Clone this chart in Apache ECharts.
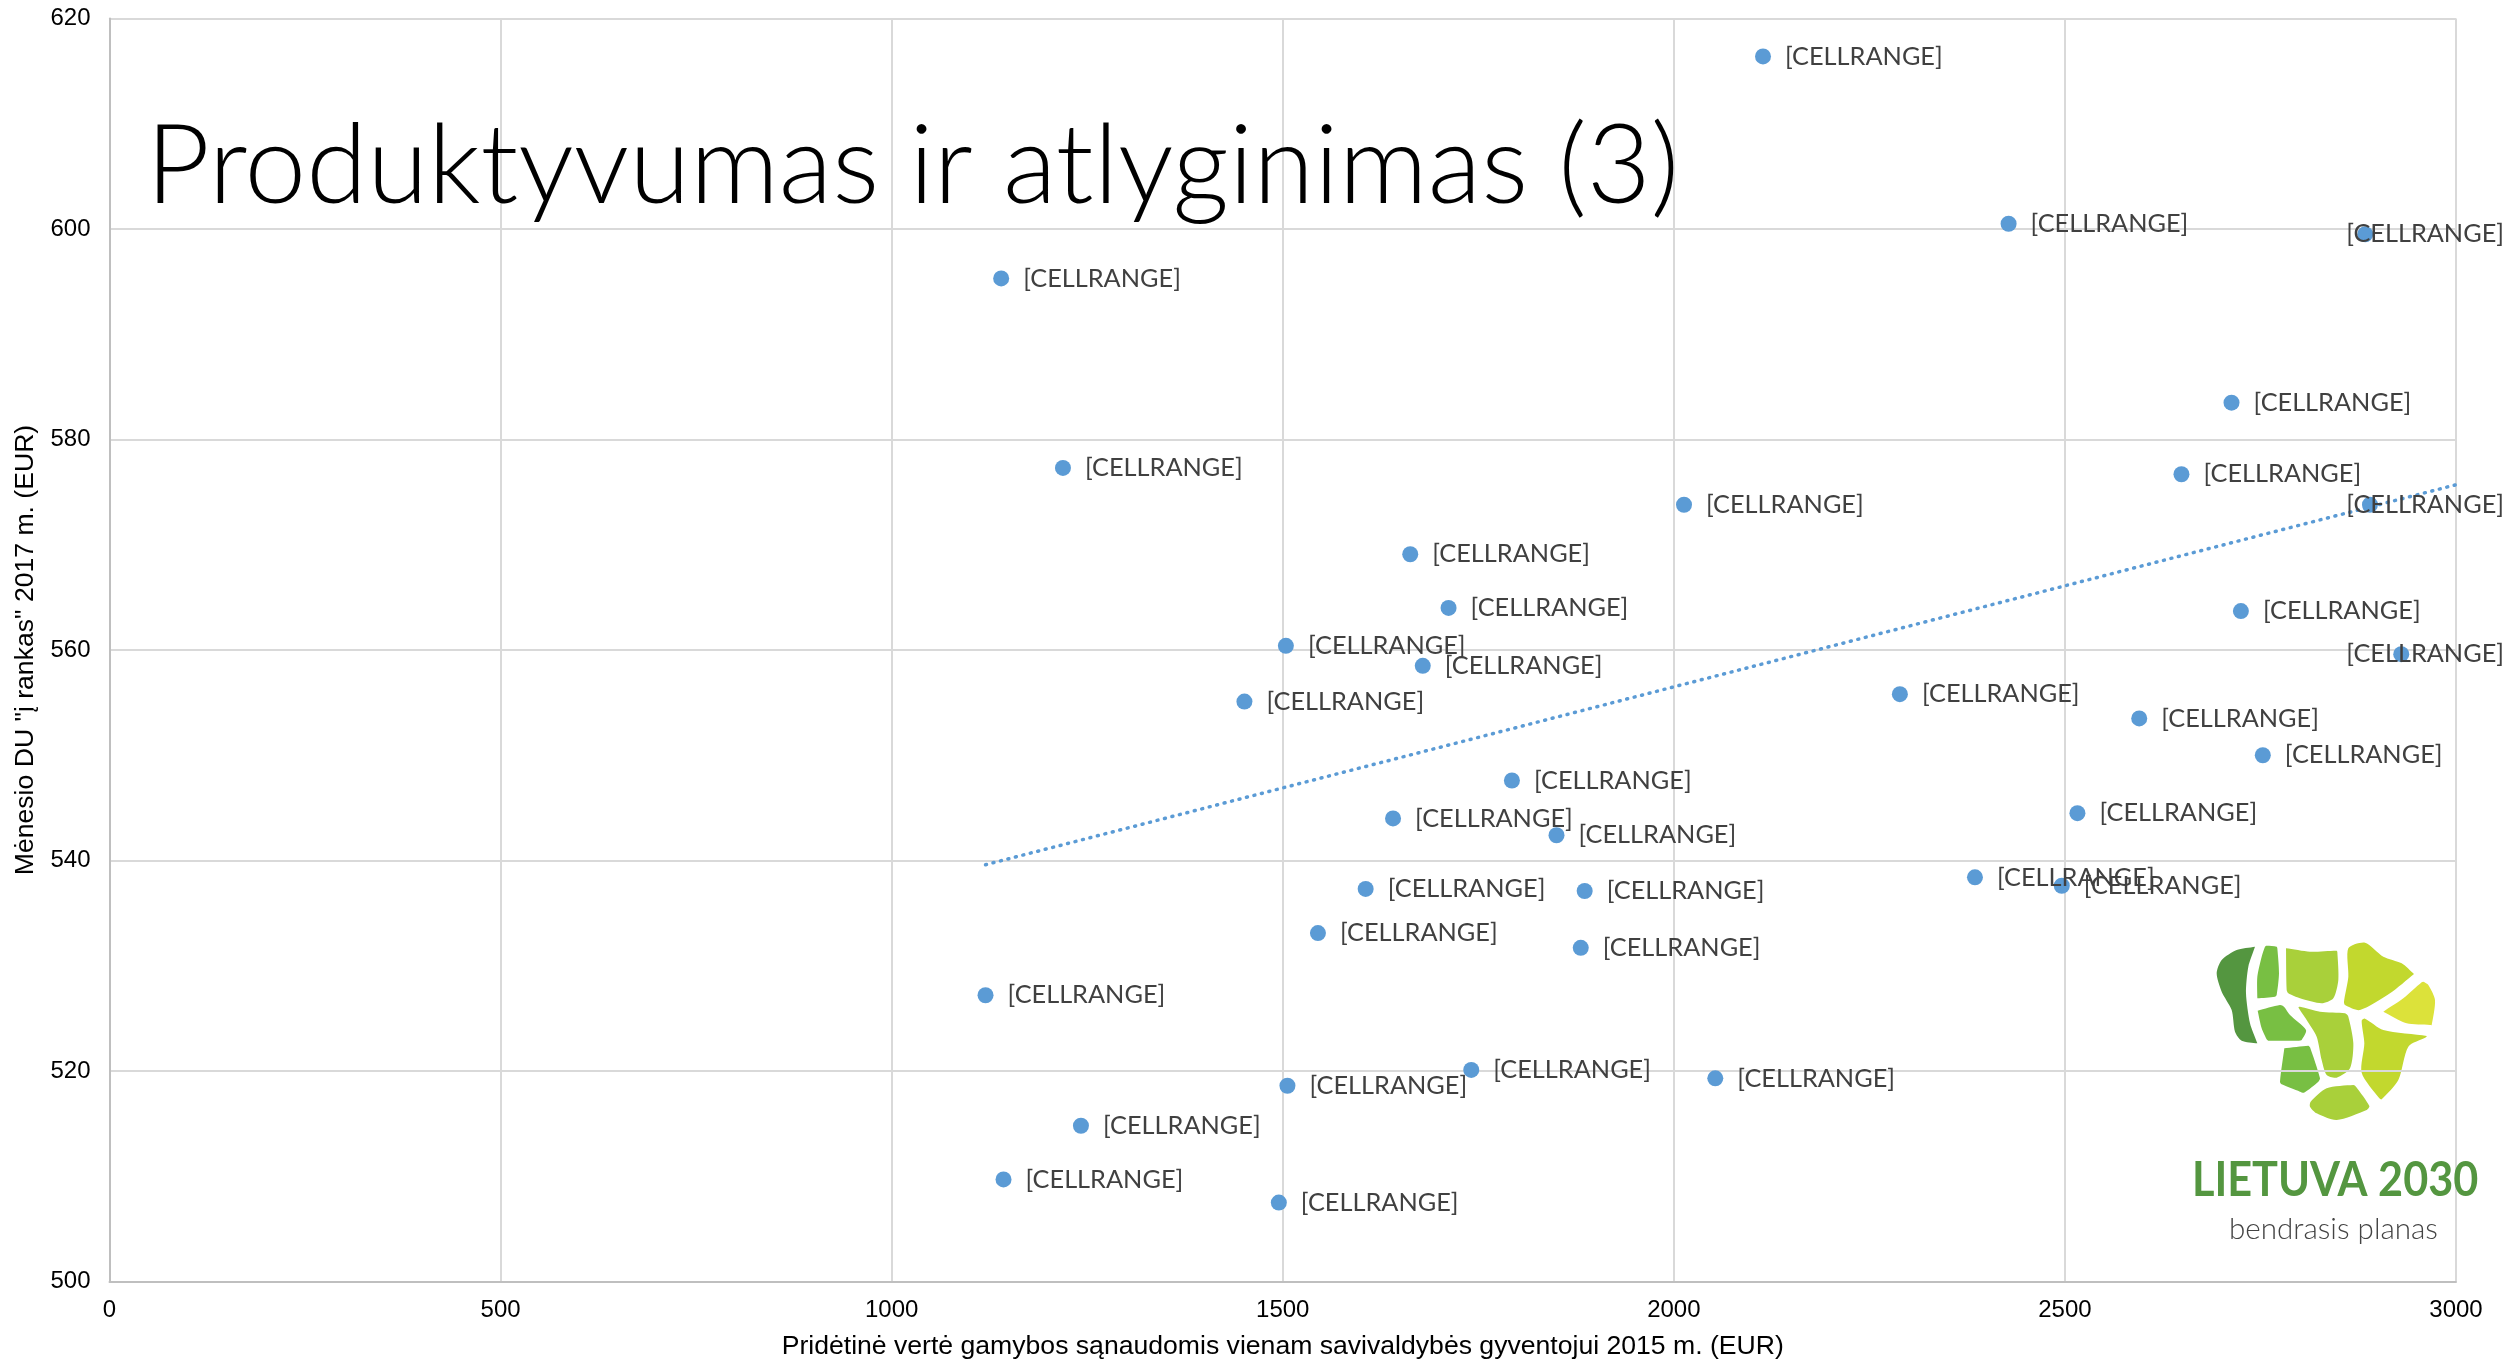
<!DOCTYPE html>
<html><head><meta charset="utf-8">
<style>html,body{margin:0;padding:0;background:#fff}#c{width:2504px;height:1363px}</style>
<script src="https://cdn.jsdelivr.net/npm/echarts@6/dist/echarts.min.js"></script>
</head><body><div id="c"></div>
<script>
const titleText = 'Produktyvumas ir atlyginimas (3)';
const xAxisName = 'Pridėtinė vertė gamybos sąnaudomis vienam savivaldybės gyventojui 2015 m. (EUR)';
const yAxisName = 'Mėnesio DU "į rankas" 2017 m. (EUR)';
const labelText = '[CELLRANGE]';
const valueAdded = [2114,2428,2884,1140,2713,1219,2649,2890,2013,1663,1712,2725,1504,2930,1679,2289,1451,2595,2753,1793,1641,2516,1850,2385,2496,1606,1886,1545,1881,1120,1741,1506,2053,1242,1143,1495];
const wages = [616.4,600.5,599.5,595.3,583.5,577.3,576.7,573.8,573.8,569.1,564,563.7,560.4,559.6,558.5,555.8,555.1,553.5,550,547.6,544,544.5,542.4,538.4,537.6,537.3,537.1,533.1,531.7,527.2,520.1,518.6,519.3,514.8,509.7,507.5];
const trendX = [1120,3000];
const trendY = [539.6,575.7];
const logoColors = {dark:'#549640',mid:'#78bf43',lime:'#a9d03a',yellow:'#c2d82e',pale:'#dce23a'};
const logoPieces = [
 ['dark',[[465,140],[465,140],[410,150],[365,180],[350,220],[365,275],[395,330],[405,395],[425,422],[472,430],[472,430],[450,370],[438,280],[445,200]]],
 ['mid',[[500,137],[530,140],[532,145],[537,220],[530,285],[525,290],[472,295],[472,295],[472,230],[485,170],[495,140]]],
 ['lime',[[558,145],[558,145],[630,155],[710,152],[712,156],[715,240],[700,295],[665,310],[600,295],[565,280],[560,270]]],
 ['yellow',[[745,145],[795,128],[850,170],[905,190],[942,222],[942,222],[870,280],[780,330],[735,315],[732,305],[745,230]]],
 ['pale',[[970,245],[985,255],[1005,300],[995,375],[990,375],[920,370],[850,335],[850,335],[910,295],[965,247]]],
 ['mid',[[473,332],[473,332],[540,315],[552,320],[570,345],[618,390],[605,420],[598,422],[505,422],[500,418],[485,385]]],
 ['lime',[[595,322],[600,320],[660,335],[735,340],[745,350],[760,430],[750,505],[710,533],[680,525],[665,480],[650,410],[620,360]]],
 ['yellow',[[785,362],[795,356],[850,390],[980,408],[978,412],[925,440],[895,540],[845,598],[838,595],[785,518],[793,430]]],
 ['mid',[[553,445],[553,445],[625,437],[630,442],[660,535],[655,545],[612,578],[600,575],[545,553],[540,545]]],
 ['lime',[[680,565],[760,555],[768,560],[808,618],[800,630],[710,660],[650,640],[630,620],[632,605]]]
];
const AXIS='"Liberation Sans",Arial,sans-serif', CAL='Lato,"Open Sans",sans-serif';
const chart = echarts.init(document.getElementById('c'),null,{renderer:'canvas'});
chart.setOption({
 animation:false,
 backgroundColor:'#fff',
 title:{text:titleText,left:146,top:112,padding:0,textStyle:{fontFamily:CAL,fontWeight:300,fontSize:110.5,color:'#000'}},
 grid:{left:109.5,right:48,top:18.5,bottom:81.5,containLabel:false,outerBoundsMode:'none'},
 xAxis:{type:'value',min:0,max:3000,interval:500,name:xAxisName,nameLocation:'middle',nameGap:52,
  nameTextStyle:{fontFamily:AXIS,fontSize:26.6,color:'#000'},
  axisLine:{show:true,lineStyle:{color:'#bfbfbf',width:2}},axisTick:{show:false},
  axisLabel:{fontFamily:AXIS,fontSize:24,color:'#000',margin:17,formatter:v=>String(v)},
  splitLine:{show:true,lineStyle:{color:'#d9d9d9',width:2}}},
 yAxis:{type:'value',min:500,max:620,interval:20,name:yAxisName,nameLocation:'middle',nameGap:69,
  nameTextStyle:{fontFamily:AXIS,fontSize:26.6,color:'#000'},
  axisLine:{show:true,lineStyle:{color:'#bfbfbf',width:2}},axisTick:{show:false},
  axisLabel:{fontFamily:AXIS,fontSize:24,color:'#000',margin:19,formatter:v=>String(v)},
  splitLine:{show:true,lineStyle:{color:'#d9d9d9',width:2}}},
 series:[
  {type:'line',data:trendX.map((x,i)=>[x,trendY[i]]),showSymbol:false,symbol:'none',z:3,
   lineStyle:{color:'#5b9bd5',width:3.5,type:[1,6.7],cap:'round'}},
  {type:'scatter',data:valueAdded.map((x,i)=>[x,wages[i]]),symbol:'circle',symbolSize:16,z:4,
   itemStyle:{color:'#5b9bd5',opacity:1},
   label:{show:true,position:'right',distance:14,formatter:()=>labelText,fontFamily:CAL,fontSize:25.3,color:'#404040',offset:[0,1.5]},
   labelLayout:p=>{const r=p.labelRect.x+p.labelRect.width;return r>2504?{dx:2504-r}:{};}}
 ],
 graphic:[
  {type:'group',x:2100,y:900,scaleX:1/3,scaleY:1/3,z:2,children:logoPieces.map(([c,pts])=>({type:'polygon',shape:{points:pts,smooth:0.25},style:{fill:logoColors[c]}}))},
  {type:'text',x:2192,y:1181,scaleX:0.9,z:5,style:{text:'LIETUVA 2030',fontFamily:CAL,fontWeight:'bold',fontSize:48,fill:'#549640',textVerticalAlign:'middle'}},
  {type:'text',x:2229,y:1229,z:5,style:{text:'bendrasis planas',fontFamily:CAL,fontWeight:300,fontSize:29.6,fill:'#444',textVerticalAlign:'middle'}}
 ]
});
</script></body></html>
